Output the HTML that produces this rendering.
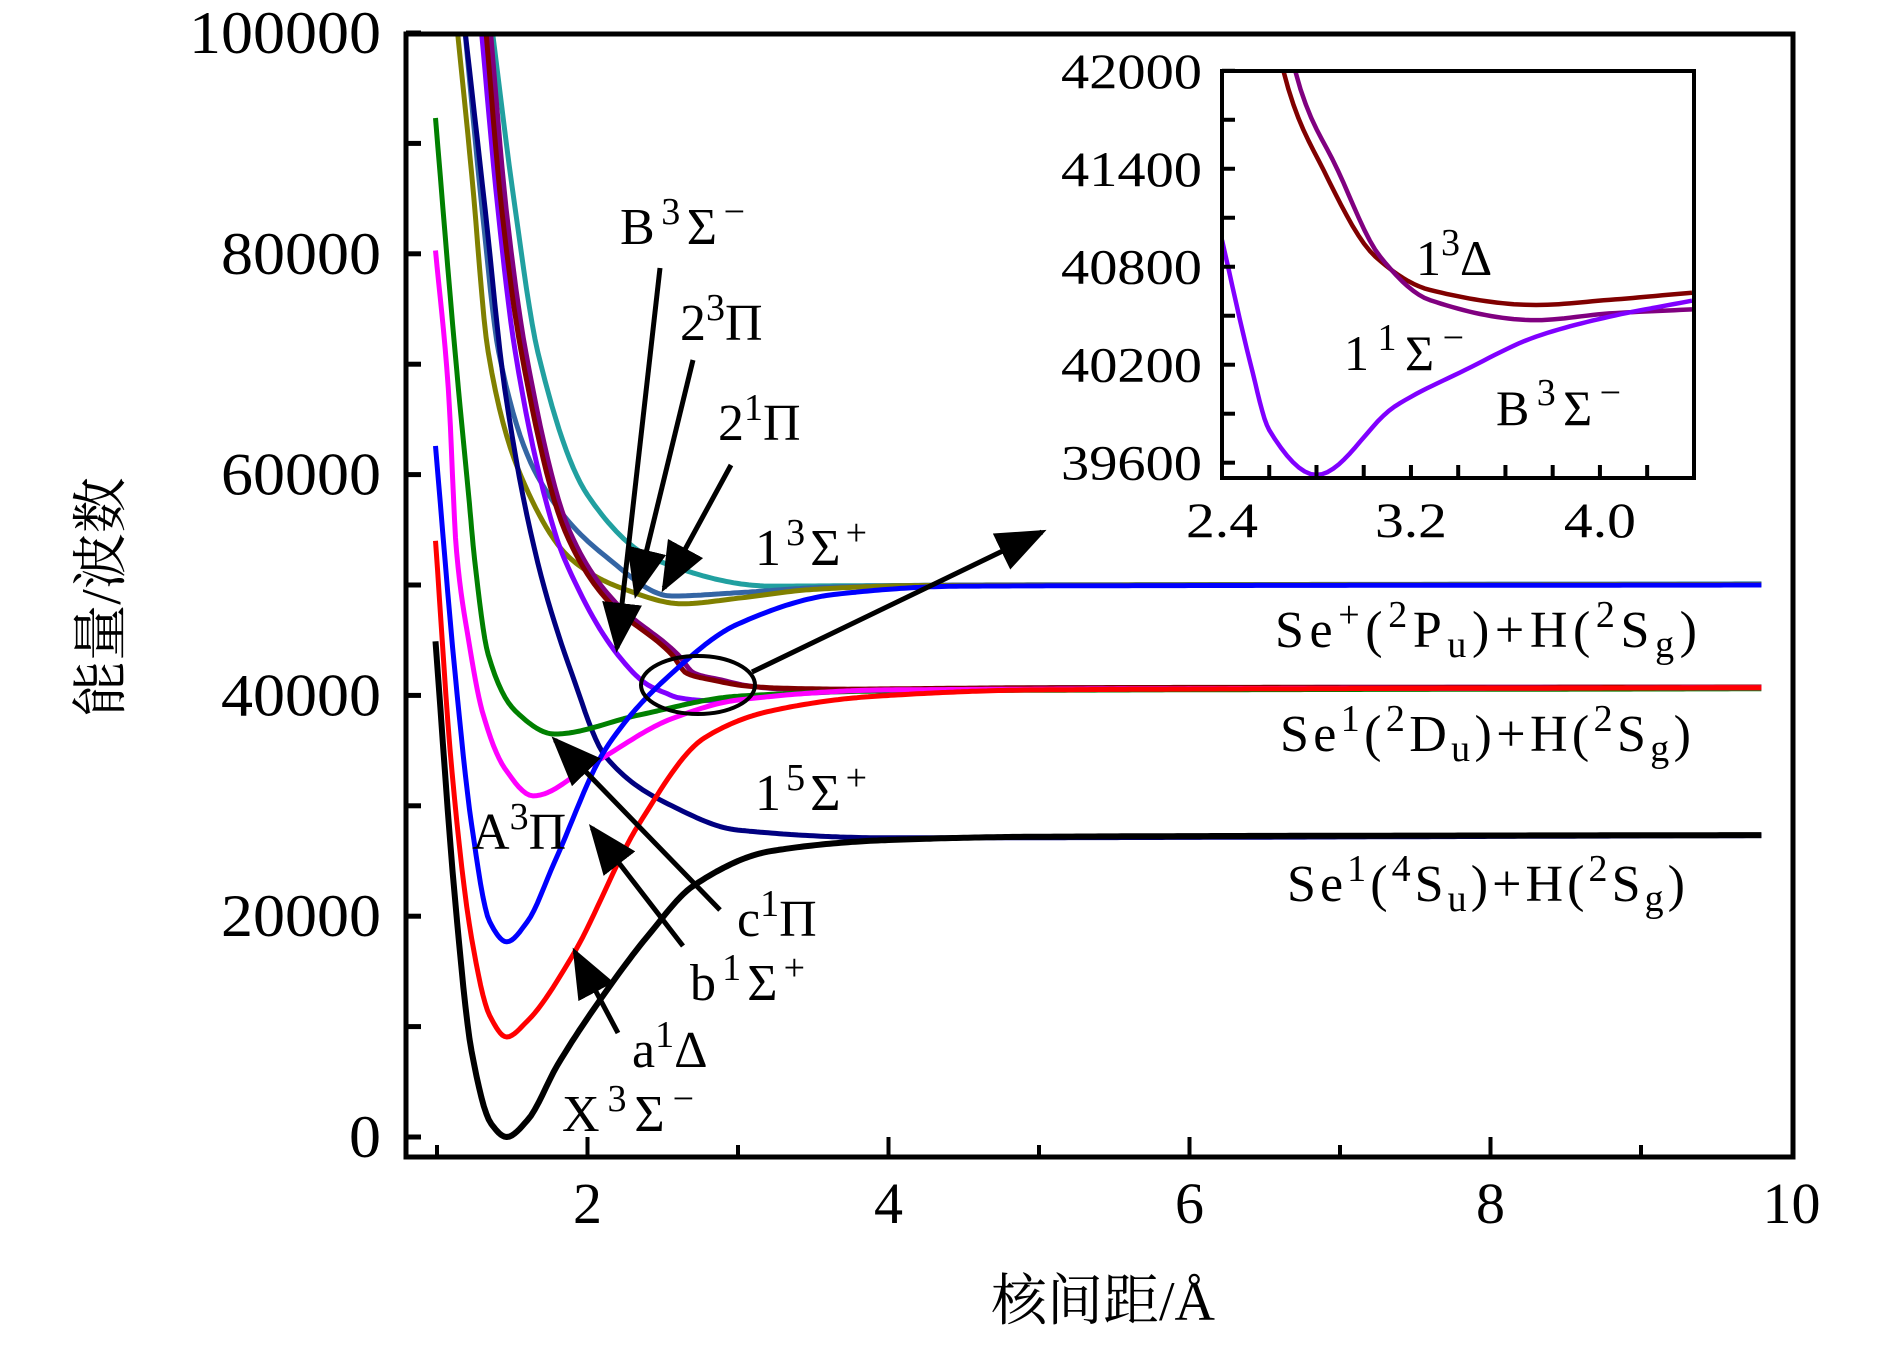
<!DOCTYPE html>
<html><head><meta charset="utf-8"><style>
html,body{margin:0;padding:0;background:#fff;}
svg{display:block;font-family:"Liberation Serif","Noto Serif CJK SC",serif;}
</style></head><body>
<svg id="chart" width="1890" height="1347" viewBox="0 0 1890 1347" xmlns="http://www.w3.org/2000/svg">
<defs>
<clipPath id="mainClip"><rect x="406" y="34" width="1387" height="1123"/></clipPath>
<clipPath id="insetClip"><rect x="1222" y="71" width="472" height="407"/></clipPath>
<marker id="ah" markerWidth="10" markerHeight="8" refX="9" refY="4" orient="auto" markerUnits="strokeWidth"><path d="M0,0 L10,4 L0,8 z" fill="#000"/></marker>
</defs>
<g id="mainCurves" clip-path="url(#mainClip)"></g>
<g id="mainAxes"></g>
<rect x="406" y="34" width="1387" height="1123" fill="none" stroke="#000" stroke-width="5"/>
<text x="1103" y="1320" font-size="56" text-anchor="middle">核间距/Å</text>
<text transform="translate(120,597) rotate(-90)" font-size="56" text-anchor="middle">能量/波数</text>

<g font-size="52">
<text x="620" y="244" textLength="125">B<tspan dy="-20" font-size="38">3</tspan><tspan dy="20">Σ</tspan><tspan dy="-20" font-size="38">−</tspan></text>
<text x="680" y="340">2<tspan dy="-20" font-size="38">3</tspan><tspan dy="20">Π</tspan></text>
<text x="718" y="440">2<tspan dy="-20" font-size="38">1</tspan><tspan dy="20">Π</tspan></text>
<text x="755" y="565" textLength="112">1<tspan dy="-20" font-size="38">3</tspan><tspan dy="20">Σ</tspan><tspan dy="-20" font-size="38">+</tspan></text>
<text x="755" y="810" textLength="112">1<tspan dy="-20" font-size="38">5</tspan><tspan dy="20">Σ</tspan><tspan dy="-20" font-size="38">+</tspan></text>
<text x="472" y="849">A<tspan dy="-20" font-size="38">3</tspan><tspan dy="20">Π</tspan></text>
<text x="737" y="936">c<tspan dy="-20" font-size="38">1</tspan><tspan dy="20">Π</tspan></text>
<text x="690" y="1000" textLength="115">b<tspan dy="-20" font-size="38">1</tspan><tspan dy="20">Σ</tspan><tspan dy="-20" font-size="38">+</tspan></text>
<text x="632" y="1067">a<tspan dy="-20" font-size="38">1</tspan><tspan dy="20">Δ</tspan></text>
<text x="562" y="1131" textLength="132">X<tspan dy="-20" font-size="38">3</tspan><tspan dy="20">Σ</tspan><tspan dy="-20" font-size="38">−</tspan></text>
<text x="1275" y="647" textLength="422">Se<tspan dy="-20" font-size="38">+</tspan><tspan dy="20">(</tspan><tspan dy="-20" font-size="38">2</tspan><tspan dy="20">P</tspan><tspan dy="10" font-size="38">u</tspan><tspan dy="-10">)+H(</tspan><tspan dy="-20" font-size="38">2</tspan><tspan dy="20">S</tspan><tspan dy="10" font-size="38">g</tspan><tspan dy="-10">)</tspan></text>
<text x="1280" y="751" textLength="411">Se<tspan dy="-20" font-size="38">1</tspan><tspan dy="20">(</tspan><tspan dy="-20" font-size="38">2</tspan><tspan dy="20">D</tspan><tspan dy="10" font-size="38">u</tspan><tspan dy="-10">)+H(</tspan><tspan dy="-20" font-size="38">2</tspan><tspan dy="20">S</tspan><tspan dy="10" font-size="38">g</tspan><tspan dy="-10">)</tspan></text>
<text x="1287" y="901" textLength="398">Se<tspan dy="-20" font-size="38">1</tspan><tspan dy="20">(</tspan><tspan dy="-20" font-size="38">4</tspan><tspan dy="20">S</tspan><tspan dy="10" font-size="38">u</tspan><tspan dy="-10">)+H(</tspan><tspan dy="-20" font-size="38">2</tspan><tspan dy="20">S</tspan><tspan dy="10" font-size="38">g</tspan><tspan dy="-10">)</tspan></text>
</g>

<g stroke="#000" stroke-width="5" fill="none">
<line x1="660" y1="268" x2="617" y2="648" marker-end="url(#ah)"/>
<line x1="693" y1="360" x2="636" y2="594" marker-end="url(#ah)"/>
<line x1="731" y1="465" x2="664" y2="588" marker-end="url(#ah)"/>
<line x1="720" y1="910" x2="555" y2="740" marker-end="url(#ah)"/>
<line x1="683" y1="946" x2="592" y2="828" marker-end="url(#ah)"/>
<line x1="618" y1="1033" x2="575" y2="952" marker-end="url(#ah)"/>
<line x1="752" y1="672" x2="1042" y2="532" marker-end="url(#ah)"/>
<ellipse cx="698" cy="685" rx="57" ry="29" stroke-width="4"/>
</g>

<rect x="1222" y="71" width="472" height="407" fill="#fff" stroke="none"/>
<g id="insetCurves" clip-path="url(#insetClip)"></g>
<g id="insetAxes"></g>
<rect x="1222" y="71" width="472" height="407" fill="none" stroke="#000" stroke-width="4"/>
<g font-size="50">
<text x="1416" y="275">1<tspan dy="-20" font-size="38">3</tspan><tspan dy="20">Δ</tspan></text>
<text x="1344" y="370" textLength="120">1<tspan dy="-20" font-size="38">1</tspan><tspan dy="20">Σ</tspan><tspan dy="-20" font-size="38">−</tspan></text>
<text x="1496" y="425" textLength="125">B<tspan dy="-20" font-size="38">3</tspan><tspan dy="20">Σ</tspan><tspan dy="-20" font-size="38">−</tspan></text>
</g>
</svg>
<script>
// ---- main chart data (r in Angstrom, E in cm^-1) ----
const r_X = [0.99,1.12,1.23,1.36,1.463,1.6,1.8,2.09,2.4,2.71,3.22,4.0,5.0,9.8];
const e_X = [44900,21500,7750,1200,0,1500,6500,12540,18200,22820,25900,26900,27200,27350];
const r_a = [0.99,1.1,1.23,1.35,1.463,1.6,1.895,2.34,2.78,3.22,3.89,5.0,9.8];
const e_a = [54000,33000,18000,11000,9060,10500,16300,28300,36180,38600,39900,40500,40700];
const r_b = [0.99,1.12,1.23,1.35,1.463,1.6,1.78,2.12,2.56,3.0,3.66,4.5,9.8];
const e_b = [62600,42000,28300,19500,17680,19500,24870,35140,42000,46470,49180,49900,50000];
const r_c = [0.99,1.075,1.13,1.21,1.30,1.45,1.64,2.03,2.56,3.0,4.0,9.8];
const e_c = [80300,67800,53000,45000,38600,33400,30900,33780,37890,39580,40500,40700];
const r_A = [0.99,1.12,1.21,1.25,1.34,1.52,1.78,2.34,3.0,4.0,9.8];
const e_A = [92300,71100,58150,52300,43700,38600,36500,38220,39930,40400,40600];
const r_Q = [1.18,1.32,1.45,1.67,1.895,2.12,2.56,3.0,4.0,9.8];
const e_Q = [101000,84000,67800,52000,42000,34470,30000,27800,27100,27300];
const r_B = [1.29,1.405,1.52,1.78,1.85,2.2,2.4,2.52,2.6,2.8,3.13,3.43,3.73,4.04,4.39,5.0,9.8];
const e_B = [101000,84000,71100,54900,52260,43700,40964,40210,39800,39525,39943,40168,40372,40494,40592,40680,40750];
const r_D = [1.32,1.43,1.56,1.85,2.12,2.56,2.66,2.83,3.05,3.28,3.73,4.04,4.39,5.0,9.8];
const e_D = [101000,84000,71100,54900,48800,43700,42000,41392,40861,40658,40566,40597,40641,40700,40760];
const r_S = [1.35,1.46,1.59,1.88,2.16,2.6,2.71,2.89,3.07,3.28,3.73,4.04,4.39,5.0,9.8];
const e_S = [101000,84000,71100,54900,48800,43700,42000,41392,40861,40596,40473,40514,40539,40650,40740];
const r_O = [1.13,1.23,1.34,1.56,1.895,2.23,2.63,3.0,3.5,4.2,9.8];
const e_O = [101000,87300,71100,59800,52300,49700,48300,48800,49600,49950,50050];
const r_P = [1.18,1.30,1.41,1.67,2.12,2.56,3.0,3.6,4.5,9.8];
const e_P = [101000,84000,71100,59800,52600,49000,49300,49800,50000,50080];
const r_T = [1.36,1.52,1.67,2.0,2.45,3.22,4.0,9.8];
const e_T = [101000,84000,71100,58150,52300,49900,49950,50100];
// ---- inset data ----
const ri_B = [2.4,2.52,2.6,2.8,3.13,3.43,3.73,4.04,4.39];
const ei_B = [40964,40210,39800,39525,39943,40168,40372,40494,40592];
const ri_D = [2.6,2.66,2.83,3.05,3.28,3.73,4.04,4.39];
const ei_D = [42600,42000,41392,40861,40658,40566,40597,40641];
const ri_S = [2.65,2.71,2.89,3.07,3.28,3.73,4.04,4.39];
const ei_S = [42600,42000,41392,40861,40596,40473,40514,40539];
// ---- ticks ----
const yTicks = [0,20000,40000,60000,80000,100000];
const yMinor = [10000,30000,50000,70000,90000];
const xTicks = [2,4,6,8,10];
const xMinor = [1,3,5,7,9];
const ixTicks = [2.4,3.2,4.0];
const ixAll = [2.4,2.6,2.8,3.0,3.2,3.4,3.6,3.8,4.0,4.2];
const iyTicks = [39600,40200,40800,41400,42000];
const iyAll = [39600,39900,40200,40500,40800,41100,41400,41700,42000];

const NS = "http://www.w3.org/2000/svg";
const X = r => 437 + (r - 1) * 150.5;
const Y = e => 1137 - e * 0.01104;
const IX = r => 1222 + (r - 2.4) * 236.2;
const IY = e => 462.7 - (e - 39600) * 0.1633;

// monotone cubic (Fritsch-Carlson) interpolation in data space
function smoothPath(xs, ys, fx, fy) {
  const n = xs.length, d = [], m = [];
  for (let i = 0; i < n - 1; i++) d.push((ys[i + 1] - ys[i]) / (xs[i + 1] - xs[i]));
  m[0] = d[0]; m[n - 1] = d[n - 2];
  for (let i = 1; i < n - 1; i++) {
    if (d[i - 1] * d[i] <= 0) m[i] = 0;
    else {
      const h0 = xs[i] - xs[i - 1], h1 = xs[i + 1] - xs[i];
      const w1 = 2 * h1 + h0, w2 = h1 + 2 * h0;
      m[i] = (w1 + w2) / (w1 / d[i - 1] + w2 / d[i]);
    }
  }
  let path = "M" + fx(xs[0]).toFixed(1) + "," + fy(ys[0]).toFixed(1);
  for (let i = 0; i < n - 1; i++) {
    const h = xs[i + 1] - xs[i];
    const steps = Math.max(8, Math.ceil(h * 40));
    for (let k = 1; k <= steps; k++) {
      const t = k / steps, t2 = t * t, t3 = t2 * t;
      const y = (2 * t3 - 3 * t2 + 1) * ys[i] + (t3 - 2 * t2 + t) * h * m[i] + (-2 * t3 + 3 * t2) * ys[i + 1] + (t3 - t2) * h * m[i + 1];
      path += "L" + fx(xs[i] + t * h).toFixed(1) + "," + fy(y).toFixed(1);
    }
  }
  return path;
}
function addPath(g, xs, ys, fx, fy, color, w, name) {
  const el = document.createElementNS(NS, "path");
  el.setAttribute("d", smoothPath(xs, ys, fx, fy));
  el.setAttribute("fill", "none");
  el.setAttribute("stroke", color);
  el.setAttribute("stroke-width", w);
  el.setAttribute("stroke-linejoin", "round");
  
  
  g.appendChild(el);
}
function addLine(g, x1, y1, x2, y2, w, name) {
  const el = document.createElementNS(NS, "line");
  el.setAttribute("x1", x1); el.setAttribute("y1", y1);
  el.setAttribute("x2", x2); el.setAttribute("y2", y2);
  el.setAttribute("stroke", "#000"); el.setAttribute("stroke-width", w);
  
  
  g.appendChild(el);
}
function addText(g, x, y, s, size, anchor, name, len) {
  const el = document.createElementNS(NS, "text");
  el.setAttribute("x", x); el.setAttribute("y", y);
  el.setAttribute("font-size", size);
  el.setAttribute("text-anchor", anchor);
  if (len) { el.setAttribute("textLength", len); el.setAttribute("lengthAdjust", "spacingAndGlyphs"); }
  el.textContent = s;
  
  
  g.appendChild(el);
}

const mc = document.getElementById("mainCurves");
addPath(mc, r_T, e_T, X, Y, "#21a0a0", 5, "curve-1-3Sigma-plus");
addPath(mc, r_P, e_P, X, Y, "#3465a4", 5, "curve-2-1Pi");
addPath(mc, r_O, e_O, X, Y, "#808000", 5, "curve-2-3Pi");
addPath(mc, r_Q, e_Q, X, Y, "#000080", 5, "curve-1-5Sigma-plus");
addPath(mc, r_B, e_B, X, Y, "#8000ff", 5, "curve-B3Sigma-minus");
addPath(mc, r_S, e_S, X, Y, "#800080", 5, "curve-1-1Sigma-minus");
addPath(mc, r_D, e_D, X, Y, "#800000", 5, "curve-1-3Delta");
addPath(mc, r_A, e_A, X, Y, "#008000", 5, "curve-A3Pi");
addPath(mc, r_c, e_c, X, Y, "#ff00ff", 5, "curve-c1Pi");
addPath(mc, r_b, e_b, X, Y, "#0000ff", 5, "curve-b1Sigma-plus");
addPath(mc, r_a, e_a, X, Y, "#ff0000", 5, "curve-a1Delta");
addPath(mc, r_X, e_X, X, Y, "#000000", 6, "curve-X3Sigma-minus");

const ma = document.getElementById("mainAxes");
yTicks.forEach(v => { addLine(ma, 406, Y(v), 421, Y(v), 5, "y-tick"); addText(ma, 381, Y(v) + 20, String(v), 60, "end", "y-tick-label", String(v).length * 32); });
yMinor.forEach(v => addLine(ma, 406, Y(v), 421, Y(v), 5, "y-minor-tick"));
xTicks.forEach(v => { if (v < 10) addLine(ma, X(v), 1157, X(v), 1137, 4, "x-tick"); addText(ma, X(v), 1223, String(v), 58, "middle", "x-tick-label"); });
xMinor.forEach(v => addLine(ma, X(v), 1157, X(v), 1145, 4, "x-minor-tick"));

const ic = document.getElementById("insetCurves");
addPath(ic, ri_D, ei_D, IX, IY, "#800000", 4.5, "inset-curve-1-3Delta");
addPath(ic, ri_S, ei_S, IX, IY, "#800080", 4.5, "inset-curve-1-1Sigma-minus");
addPath(ic, ri_B, ei_B, IX, IY, "#8000ff", 4.5, "inset-curve-B3Sigma-minus");

const ia = document.getElementById("insetAxes");
ixAll.forEach(v => { if (v > 2.41) addLine(ia, IX(v), 478, IX(v), 465, 4, "inset-x-tick"); });
ixTicks.forEach(v => addText(ia, IX(v), 537, v.toFixed(1), 50, "middle", "inset-x-tick-label", 72));
iyAll.forEach(v => addLine(ia, 1222, IY(v), 1235, IY(v), 4, "inset-y-tick"));
iyTicks.forEach(v => addText(ia, 1202, IY(v) + 17, String(v), 50, "end", "inset-y-tick-label", 141));
</script>
</body></html>
